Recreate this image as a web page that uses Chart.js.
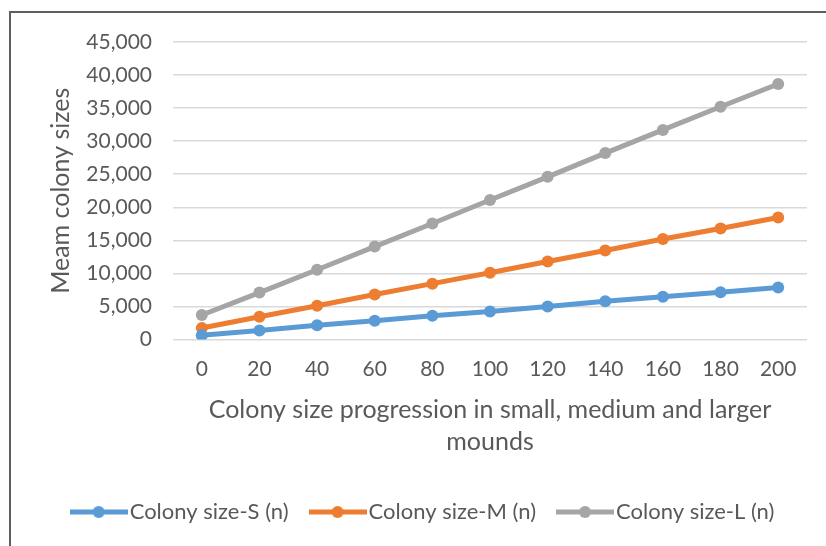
<!DOCTYPE html>
<html>
<head>
<meta charset="utf-8">
<script src="https://cdn.jsdelivr.net/npm/chart.js@4.4.1/dist/chart.umd.min.js"></script>
<style>
  body { margin: 0; background: #fff; }
  #marco { position: absolute; left: 9px; top: 11px; width: 900px; height: 600px; border-left: 2px solid #5f5f5f; border-top: 2px solid #5f5f5f; }
  #grafico { position: absolute; left: 0; top: 0; }
</style>
</head>
<body>
<div id="marco"></div>
<canvas id="grafico" width="826" height="546"></canvas>
<script>
// datos
const etiquetas = ['0', '20', '40', '60', '80', '100', '120', '140', '160', '180', '200'];
const tamanoS = [650, 1350, 2150, 2850, 3600, 4250, 5000, 5800, 6450, 7150, 7850];
const tamanoM = [1750, 3450, 5100, 6800, 8450, 10100, 11800, 13450, 15200, 16800, 18450];
const tamanoL = [3700, 7100, 10550, 14050, 17550, 21100, 24600, 28200, 31700, 35200, 38650];
const nombres = ['Colony size-S (n)', 'Colony size-M (n)', 'Colony size-L (n)'];
const colores = ['#5B9BD5', '#ED7D31', '#A5A5A5'];

const gris = '#595959';
const fuente = 'Lato, "Open Sans", sans-serif';

// marcador de leyenda: linea con circulo
function crearMarcador(color) {
    const c = document.createElement('canvas');
    c.width = 58;
    c.height = 14;
    const g = c.getContext('2d');
    g.strokeStyle = color;
    g.lineWidth = 5;
    g.beginPath();
    g.moveTo(0, 7);
    g.lineTo(58, 7);
    g.stroke();
    g.fillStyle = color;
    g.beginPath();
    g.arc(29, 7, 6, 0, Math.PI * 2);
    g.fill();
    return c;
}
const marcadores = colores.map(crearMarcador);

function serie(i, valores) {
    return {
        label: nombres[i],
        data: valores,
        borderColor: colores[i],
        backgroundColor: colores[i],
        borderWidth: 5,
        pointRadius: 6,
        pointBorderWidth: 0,
        pointBackgroundColor: colores[i],
        tension: 0
    };
}

new Chart(document.getElementById('grafico'), {
    type: 'line',
    data: {
        labels: etiquetas,
        datasets: [serie(0, tamanoS), serie(1, tamanoM), serie(2, tamanoL)]
    },
    options: {
        responsive: false,
        animation: false,
        layout: { padding: { top: 42, right: 19, bottom: 13, left: 46 } },
        plugins: {
            tooltip: { enabled: false },
            legend: {
                position: 'bottom',
                labels: {
                    usePointStyle: true,
                    pointStyleWidth: 40,
                    padding: 29,
                    color: gris,
                    font: { family: fuente, size: 22 },
                    generateLabels: chart => Chart.defaults.plugins.legend.labels.generateLabels(chart)
                        .map((l, i) => ({ ...l, pointStyle: marcadores[i] }))
                }
            }
        },
        scales: {
            x: {
                offset: true,
                grid: { display: false, drawTicks: false },
                border: { display: false },
                ticks: { color: gris, padding: 17, font: { family: fuente, size: 21 } },
                title: {
                    display: true,
                    text: ['Colony size progression in small, medium and larger', 'mounds'],
                    color: gris,
                    font: { family: fuente, size: 25, lineHeight: 1.28 },
                    padding: { top: 0, bottom: 14 }
                },
                afterFit: s => { s.height = 132.5; }
            },
            y: {
                min: 0,
                max: 45000,
                grid: { color: '#d9d9d9', lineWidth: 1.5, drawTicks: false },
                border: { display: false },
                ticks: {
                    stepSize: 5000,
                    color: gris,
                    padding: 21,
                    font: { family: fuente, size: 21 },
                    callback: v => v.toLocaleString('en-US')
                },
                title: {
                    display: true,
                    text: 'Meam colony sizes',
                    color: gris,
                    font: { family: fuente, size: 25 },
                    padding: { top: 0, bottom: 0 }
                },
                afterFit: s => { s.width = 127; }
            }
        }
    }
});
</script>
</body>
</html>
